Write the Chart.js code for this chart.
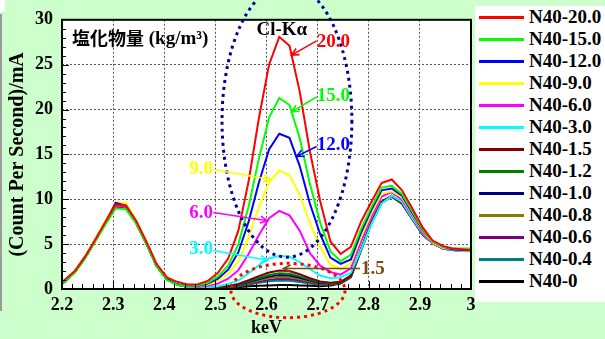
<!DOCTYPE html>
<html>
<head>
<meta charset="utf-8">
<script src="https://cdn.jsdelivr.net/npm/chart.js@4.4.1/dist/chart.umd.min.js"></script>
<style>
  html, body { margin: 0; padding: 0; }
  body { width: 605px; height: 339px; background: #ccffcc; position: relative; overflow: hidden; }
  #wrap { position: absolute; left: 0; top: 0; width: 605px; height: 339px; }
  #legend { position: absolute; left: 475px; top: 6px; width: 130px; height: 296px; background: #fff; }
  #legend .row { position: absolute; left: 0; width: 130px; height: 22px; }
  #legend .row i { position: absolute; left: 4px; top: 10px; width: 45px; height: 2.5px; }
  #legend .row span { position: absolute; left: 54px; top: 0; line-height: 22px; font: bold 19px 'Liberation Serif', serif; color: #000; white-space: nowrap; }
  #edge { position: absolute; left: 0; top: 14px; width: 2px; height: 297px; background: #9a9a9a; }
  #corner { position: absolute; left: 0; top: 0; width: 5px; height: 12px; background: #fff; }
</style>
</head>
<body>
<div id="wrap"><canvas id="chart" width="605" height="339"></canvas></div>
<div id="legend"></div>
<div id="edge"></div>
<div id="corner"></div>
<script>
// ---- Data (keV, count per second / mA) ----
const energy = [2.185, 2.205, 2.225, 2.245, 2.265, 2.285, 2.305, 2.325, 2.345, 2.365, 2.385, 2.405, 2.425, 2.445,
  2.465, 2.485, 2.505, 2.525, 2.545, 2.565, 2.585, 2.605, 2.625, 2.645, 2.665, 2.685, 2.705, 2.725, 2.745,
  2.765, 2.785, 2.805, 2.825, 2.845, 2.865, 2.885, 2.905, 2.925, 2.945, 2.965, 2.985, 3.005];

const n20_0 = [0.4, 1.0, 2.0, 3.6, 5.5, 7.5, 9.4, 9.3, 7.6, 5.3, 2.8, 1.3, 0.8, 0.5, 0.5, 0.9, 1.8, 3.4, 6.5, 12.0,
  19.0, 25.0, 28.1, 27.1, 22.0, 15.3, 9.8, 5.3, 3.9, 4.7, 7.5, 9.7, 11.8, 12.2, 11.0, 9.0, 6.9, 5.4, 4.8, 4.5, 4.4, 4.3];
const n15_0 = [0.3, 0.8, 1.8, 3.4, 5.3, 7.2, 9.0, 8.9, 7.3, 5.0, 2.5, 1.0, 0.45, 0.35, 0.35, 0.7, 1.4, 2.6, 5.0, 9.2,
  14.5, 19.1, 21.3, 20.5, 16.8, 11.7, 7.4, 4.2, 3.1, 3.8, 6.7, 9.1, 11.3, 11.5, 10.6, 8.7, 6.7, 5.3, 4.7, 4.5, 4.5, 4.5];
const n12_0 = [0.2, 0.8, 1.9, 3.5, 5.4, 7.4, 9.6, 9.3, 7.5, 5.1, 2.6, 1.1, 0.5, 0.34, 0.32, 0.6, 1.15, 2.15, 4.1, 7.5,
  11.85, 15.55, 17.3, 16.85, 13.7, 9.5, 6.1, 3.5, 2.8, 3.3, 6.3, 8.8, 11.0, 11.2, 10.4, 8.5, 6.6, 5.3, 4.7, 4.4, 4.35, 4.3];
const n9_0 = [0.4, 0.9, 2.0, 3.6, 5.6, 7.6, 9.7, 9.6, 7.6, 5.2, 2.7, 1.2, 0.5, 0.3, 0.3, 0.5, 0.9, 1.7, 3.1, 5.8,
  9.1, 11.9, 13.2, 12.7, 10.5, 7.3, 4.7, 2.7, 2.2, 2.85, 5.8, 8.4, 10.6, 10.9, 10.2, 8.35, 6.5, 5.2, 4.6, 4.4, 4.3, 4.3];
const n6_0 = [0.3, 0.8, 1.9, 3.5, 5.4, 7.4, 9.3, 9.2, 7.4, 5.1, 2.6, 1.1, 0.5, 0.3, 0.25, 0.35, 0.6, 1.15, 2.1, 3.9,
  6.0, 7.9, 8.7, 8.2, 6.5, 4.0, 2.6, 1.9, 1.6, 2.3, 5.3, 8.0, 10.3, 10.8, 9.95, 8.2, 6.3, 5.1, 4.5, 4.35, 4.3, 4.3];
const n3_0 = [0.3, 0.8, 1.9, 3.5, 5.4, 7.4, 9.3, 9.2, 7.4, 5.1, 2.6, 1.1, 0.5, 0.25, 0.18, 0.2, 0.3, 0.55, 0.95, 1.75,
  2.65, 3.4, 3.7, 3.6, 3.0, 2.2, 1.5, 1.2, 1.3, 1.8, 4.4, 7.2, 9.5, 10.4, 9.7, 7.9, 6.2, 5.1, 4.5, 4.3, 4.2, 4.2];
const n1_5 = [0.3, 0.8, 1.9, 3.5, 5.4, 7.4, 9.2, 9.1, 7.4, 5.1, 2.6, 1.1, 0.5, 0.26, 0.17, 0.15, 0.2, 0.34, 0.56, 0.98,
  1.43, 1.83, 2.05, 2.0, 1.65, 1.2, 0.85, 0.7, 0.8, 1.5, 4.5, 7.4, 9.7, 10.4, 9.6, 7.9, 6.15, 5.1, 4.5, 4.35, 4.3, 4.3];
const n1_2 = [0.3, 0.8, 1.9, 3.5, 5.4, 7.4, 9.2, 9.1, 7.4, 5.1, 2.6, 1.1, 0.5, 0.26, 0.16, 0.14, 0.18, 0.3, 0.5, 0.85,
  1.23, 1.56, 1.75, 1.7, 1.41, 1.05, 0.74, 0.63, 0.76, 1.46, 4.45, 7.41, 9.7, 10.39, 9.57, 7.86, 6.14, 5.1, 4.5, 4.35, 4.3, 4.3];
const n1_0 = [0.3, 0.8, 1.9, 3.5, 5.4, 7.4, 9.2, 9.1, 7.4, 5.1, 2.6, 1.1, 0.5, 0.26, 0.16, 0.13, 0.17, 0.28, 0.45, 0.77,
  1.09, 1.38, 1.55, 1.51, 1.26, 0.94, 0.67, 0.6, 0.73, 1.43, 4.43, 7.4, 9.69, 10.38, 9.56, 7.85, 6.13, 5.1, 4.5, 4.35, 4.3, 4.3];
const n0_8 = [0.3, 0.8, 1.9, 3.5, 5.4, 7.4, 9.2, 9.1, 7.4, 5.1, 2.6, 1.1, 0.5, 0.25, 0.16, 0.13, 0.16, 0.26, 0.41, 0.68,
  0.96, 1.2, 1.35, 1.32, 1.1, 0.84, 0.61, 0.56, 0.71, 1.41, 4.4, 7.38, 9.67, 10.36, 9.55, 7.84, 6.13, 5.1, 4.5, 4.35, 4.3, 4.3];
const n0_6 = [0.3, 0.8, 1.9, 3.5, 5.4, 7.4, 9.2, 9.1, 7.4, 5.1, 2.6, 1.1, 0.5, 0.25, 0.16, 0.12, 0.14, 0.23, 0.36, 0.6,
  0.82, 1.02, 1.15, 1.12, 0.95, 0.73, 0.54, 0.53, 0.68, 1.38, 4.38, 7.36, 9.66, 10.35, 9.54, 7.83, 6.12, 5.1, 4.5, 4.35, 4.3, 4.3];
const n0_4 = [0.3, 0.8, 1.9, 3.5, 5.4, 7.4, 9.2, 9.1, 7.4, 5.1, 2.6, 1.1, 0.5, 0.25, 0.15, 0.11, 0.13, 0.21, 0.31, 0.51,
  0.69, 0.85, 0.95, 0.93, 0.79, 0.62, 0.47, 0.49, 0.66, 1.36, 4.36, 7.34, 9.64, 10.33, 9.53, 7.82, 6.12, 5.1, 4.5, 4.35, 4.3, 4.3];
const n0 = [0.3, 0.8, 1.9, 3.5, 5.4, 7.4, 9.2, 9.1, 7.4, 5.1, 2.6, 1.1, 0.5, 0.25, 0.15, 0.1, 0.1, 0.15, 0.2, 0.3,
  0.35, 0.4, 0.45, 0.45, 0.4, 0.35, 0.3, 0.4, 0.6, 1.3, 4.3, 7.3, 9.6, 10.3, 9.5, 7.8, 6.1, 5.1, 4.5, 4.35, 4.3, 4.3];

const seriesNames = ['N40-20.0', 'N40-15.0', 'N40-12.0', 'N40-9.0', 'N40-6.0', 'N40-3.0', 'N40-1.5',
  'N40-1.2', 'N40-1.0', 'N40-0.8', 'N40-0.6', 'N40-0.4', 'N40-0'];
const seriesValues = [n20_0, n15_0, n12_0, n9_0, n6_0, n3_0, n1_5, n1_2, n1_0, n0_8, n0_6, n0_4, n0];
const seriesColors = ['#ff0000', '#00ff00', '#0000ff', '#ffff00', '#ff00ff', '#00ffff', '#800000',
  '#008000', '#000080', '#808000', '#800080', '#008080', '#000000'];

const yTicks = [0, 5, 10, 15, 20, 25, 30];
const xTicks = [2.2, 2.3, 2.4, 2.5, 2.6, 2.7, 2.8, 2.9, 3];

// ---- Annotation layer (positions in data units) ----
const serif = "'Liberation Serif', 'Times New Roman', serif";

function dataPt(chart, k, v) {
  return [chart.scales.x.getPixelForValue(k), chart.scales.y.getPixelForValue(v)];
}

function arrow(ctx, x1, y1, x2, y2, color) {
  const a = Math.atan2(y2 - y1, x2 - x1);
  const h = 8;
  ctx.strokeStyle = color;
  ctx.lineWidth = 1.6;
  ctx.beginPath();
  ctx.moveTo(x1, y1);
  ctx.lineTo(x2, y2);
  ctx.moveTo(x2 - h * Math.cos(a - 0.45), y2 - h * Math.sin(a - 0.45));
  ctx.lineTo(x2, y2);
  ctx.lineTo(x2 - h * Math.cos(a + 0.45), y2 - h * Math.sin(a + 0.45));
  ctx.stroke();
}

const labels = [
  { text: '20.0', at: [2.731, 27.57], color: '#ff0000', from: [2.698, 27.65], to: [2.649, 26.06] },
  { text: '15.0', at: [2.731, 21.5], color: '#00ff00', from: [2.698, 21.4], to: [2.649, 19.74] },
  { text: '12.0', at: [2.731, 16.05], color: '#0000ff', from: [2.698, 15.88], to: [2.659, 14.78] },
  { text: '9.0', at: [2.472, 13.4], color: '#ffff00', from: [2.496, 13.31], to: [2.608, 12.21] },
  { text: '6.0', at: [2.472, 8.44], color: '#ff00ff', from: [2.496, 8.53], to: [2.602, 7.61] },
  { text: '3.0', at: [2.472, 4.41], color: '#00ffff', from: [2.496, 4.3], to: [2.602, 3.2] },
  { text: '1.5', at: [2.808, 2.21], color: '#7a4a10', from: [2.783, 2.28], to: [2.633, 2.28] }
];

const backgroundPlugin = {
  id: 'plotBackground',
  beforeDraw(chart) {
    const { ctx, chartArea: a } = chart;
    ctx.save();
    ctx.fillStyle = '#ffffff';
    ctx.fillRect(a.left, a.top, a.right - a.left, a.bottom - a.top);
    ctx.restore();
  }
};

const framePlugin = {
  id: 'frameTicks',
  afterDatasetsDraw(chart) {
    const { ctx, chartArea: a, scales: { x, y } } = chart;
    ctx.save();
    ctx.strokeStyle = '#000';
    ctx.lineWidth = 1;
    ctx.beginPath();
    for (let v = 1; v < 30; v++) {
      const py = Math.round(y.getPixelForValue(v)) + 0.5;
      ctx.moveTo(a.left, py);
      ctx.lineTo(a.left + (v % 5 ? 4 : 7), py);
    }
    for (let k = 1; k < 40; k++) {
      const px = Math.round(x.getPixelForValue(2.2 + k * 0.02)) + 0.5;
      ctx.moveTo(px, a.bottom);
      ctx.lineTo(px, a.bottom - (k % 5 ? 5 : 8));
    }
    ctx.stroke();
    ctx.lineWidth = 2;
    ctx.strokeRect(a.left, a.top, a.right - a.left, a.bottom - a.top);
    ctx.restore();
  }
};

const annotationPlugin = {
  id: 'annotations',
  afterDraw(chart) {
    const { ctx, scales: { x, y } } = chart;
    ctx.save();

    // dotted ellipses
    const ell = (c, r, color) => {
      const [cx, cy] = dataPt(chart, c[0], c[1]);
      const rx = Math.abs(x.getPixelForValue(c[0] + r[0]) - cx);
      const ry = Math.abs(y.getPixelForValue(c[1] + r[1]) - cy);
      ctx.strokeStyle = color;
      ctx.lineWidth = 3;
      ctx.setLineDash([3, 4]);
      ctx.beginPath();
      ctx.ellipse(cx, cy, rx, ry, 0, 0, Math.PI * 2);
      ctx.stroke();
      ctx.setLineDash([]);
    };
    ell([2.640, 18.75], [0.127, 15.2], '#000099');
    ell([2.642, -0.17], [0.1115, 3.03], '#ff0000');

    // pointers and values
    labels.forEach(l => {
      const [x1, y1] = dataPt(chart, l.from[0], l.from[1]);
      const [x2, y2] = dataPt(chart, l.to[0], l.to[1]);
      arrow(ctx, x1, y1, x2, y2, l.color);
      const [tx, ty] = dataPt(chart, l.at[0], l.at[1]);
      ctx.fillStyle = l.color;
      ctx.font = 'bold 19px ' + serif;
      ctx.textAlign = 'center';
      ctx.textBaseline = 'middle';
      ctx.fillText(l.text, tx, ty);
    });

    ctx.fillStyle = '#000';
    ctx.textAlign = 'center';
    ctx.textBaseline = 'middle';
    ctx.font = 'bold 19px ' + serif;
    const [kx, ky] = dataPt(chart, 2.630, 28.9);
    ctx.fillText('Cl-K\u03b1', kx, ky);

    const [ax, ay] = dataPt(chart, 2.2196, 28.0);
    ctx.textAlign = 'left';
    ctx.font = "bold 18px 'Noto Sans CJK JP', sans-serif";
    ctx.fillText('塩化物量', ax, ay);
    const w = ctx.measureText('塩化物量').width;
    ctx.font = 'bold 19px ' + serif;
    ctx.fillText(' (kg/m\u00b3)', ax + w, ay + 1);
    ctx.restore();
  }
};

const datasets = seriesNames.map((name, i) => ({
  label: name,
  data: energy.map((e, j) => ({ x: e, y: seriesValues[i][j] })),
  borderColor: seriesColors[i],
  backgroundColor: seriesColors[i],
  borderWidth: 2,
  pointRadius: 0,
  tension: 0,
  fill: false
}));

const chart = new Chart(document.getElementById('chart'), {
  type: 'line',
  data: { datasets },
  options: {
    responsive: false,
    animation: false,
    devicePixelRatio: 1,
    layout: { padding: { left: 0, right: 134, top: 17, bottom: 0 } },
    plugins: { legend: { display: false }, tooltip: { enabled: false } },
    scales: {
      x: {
        type: 'linear',
        min: 2.2,
        max: 3,
        afterBuildTicks: s => { s.ticks = xTicks.map(v => ({ value: v })); },
        afterFit: s => { s.height = 50; },
        ticks: {
          padding: 6,
          color: '#000',
          font: { family: serif, size: 18, weight: 'bold' },
          callback: v => String(Number(v.toFixed(1)))
        },
        grid: { color: '#555', lineWidth: 1, drawTicks: false },
        border: { display: false, dash: [2, 2] },
        title: {
          display: true, text: 'keV', color: '#000',
          font: { family: serif, size: 18, weight: 'bold' },
          padding: { top: 0, bottom: 0 }
        }
      },
      y: {
        min: 0,
        max: 30,
        afterBuildTicks: s => { s.ticks = yTicks.map(v => ({ value: v })); },
        afterFit: s => { s.width = 62; },
        ticks: {
          padding: 9,
          color: '#000',
          font: { family: serif, size: 18, weight: 'bold' }
        },
        grid: { color: '#555', lineWidth: 1, drawTicks: false },
        border: { display: false, dash: [2, 2] },
        title: {
          display: true, text: '(Count Per Second)/mA', color: '#000',
          font: { family: serif, size: 20, weight: 'bold' },
          padding: { top: 6, bottom: 0 }
        }
      }
    }
  },
  plugins: [backgroundPlugin, framePlugin, annotationPlugin]
});

// ---- HTML legend built from the datasets ----
const legendEl = document.getElementById('legend');
chart.data.datasets.forEach((ds, i) => {
  const row = document.createElement('div');
  row.className = 'row';
  row.style.top = (i * 22.03) + 'px';
  row.innerHTML = '<i style="background:' + ds.borderColor + '"></i><span>' + ds.label + '</span>';
  legendEl.appendChild(row);
});
</script>
</body>
</html>
